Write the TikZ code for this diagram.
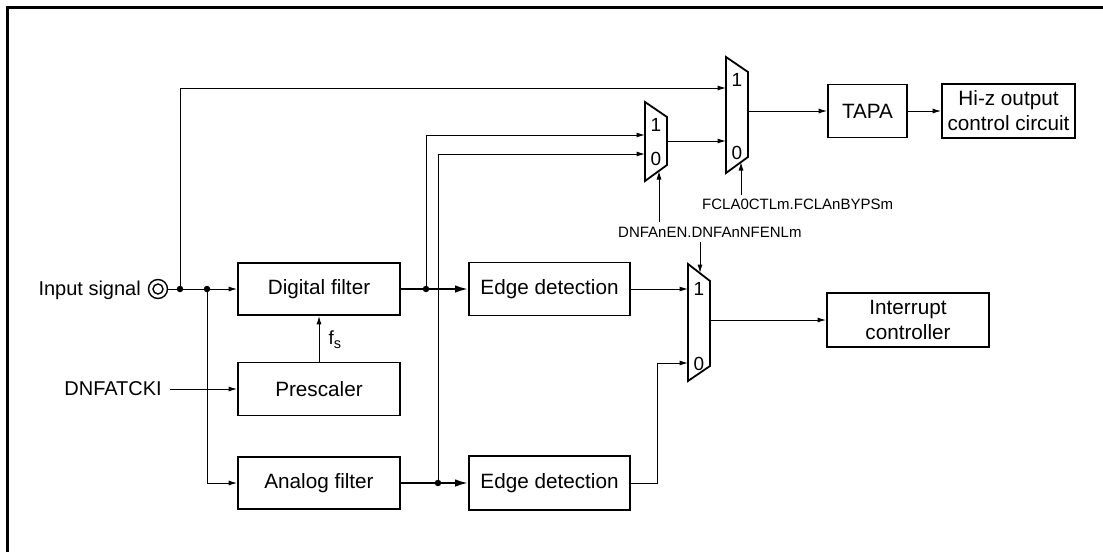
\documentclass[tikz,border=0pt]{standalone}
\usepackage{fontspec}
\setmainfont{Liberation Sans}
\usetikzlibrary{arrows.meta}
\begin{document}
\begin{tikzpicture}[x=1pt,y=-1pt,
  box/.style={draw, line width=1.8pt, inner sep=0pt, align=center, font=\fontsize{20.7}{25}\selectfont},
  arr/.style={line width=1pt, -{Latex[length=8.5pt,width=5pt]}},
  arrthick/.style={line width=2pt, -{Latex[length=13pt,width=7.5pt]}},
  wire/.style={line width=1pt},
  dot/.style={circle, fill, inner sep=0pt, minimum size=6.5pt},
  lbl/.style={inner sep=0pt, font=\fontsize{15}{18}\selectfont},
  txt/.style={inner sep=0pt, font=\fontsize{20}{24}\selectfont},
  muxlbl/.style={inner sep=0pt, font=\fontsize{19}{22}\selectfont},
  muxshape/.style={draw, line width=1.8pt, line join=miter}
]
\useasboundingbox (0,0) rectangle (1103,552);
\draw[line width=3pt] (7,552) -- (7,7) -- (1103,7);

% boxes
\node[box, minimum width=162pt, minimum height=52pt] (dig) at (319,289) {Digital filter};
\node[box, minimum width=162pt, minimum height=53pt] (pre) at (319,389) {Prescaler};
\node[box, minimum width=162pt, minimum height=52pt] (ana) at (319,483) {Analog filter};
\node[box, minimum width=161pt, minimum height=53pt] (ed1) at (549.5,289) {Edge detection};
\node[box, minimum width=161pt, minimum height=54pt] (ed2) at (549.5,483) {Edge detection};
\node[box, minimum width=79pt, minimum height=53pt] (tapa) at (867.5,111) {TAPA};
\node[box, minimum width=133pt, minimum height=54pt] (hiz) at (1008.5,111) {Hi-z output\\control circuit};
\node[box, minimum width=162pt, minimum height=54pt] (intc) at (908,320) {Interrupt\\controller};

% input terminal
\node[draw, circle, line width=1.4pt, minimum size=19pt, inner sep=0pt] (insig) at (158,289) {};
\draw[line width=1.4pt] (insig.center) circle (5);
\node[txt, anchor=base east] (intxt) at (141,295.5) {Input signal};
\node[txt, anchor=east] (dnf) at (162,389) {DNFATCKI};

% multiplexers
\draw[muxshape] (645,102) -- (667,117) -- (667,165) -- (645,181) -- cycle;
\draw[muxshape] (726,57) -- (748,72) -- (748,157) -- (726,173) -- cycle;
\draw[muxshape] (688,264) -- (710,281) -- (710,366) -- (688,381) -- cycle;
\node[muxlbl] (m1a) at (656,125) {1};
\node[muxlbl] (m1b) at (656,159) {0};
\node[muxlbl] (m2a) at (737,80) {1};
\node[muxlbl] (m2b) at (737,153) {0};
\node[muxlbl] (m3a) at (699,289) {1};
\node[muxlbl] (m3b) at (699,364) {0};
\coordinate (m1in1) at (645,135);
\coordinate (m1in0) at (645,154);
\coordinate (m1out) at (667,141);
\coordinate (m1sel) at (659,171);
\coordinate (m2in1) at (726,88);
\coordinate (m2in0) at (726,141);
\coordinate (m2out) at (748,111);
\coordinate (m2sel) at (741,162);
\coordinate (m3in1) at (688,289);
\coordinate (m3in0) at (688,363);
\coordinate (m3out) at (710,320);
\coordinate (m3sel) at (700,273);

% junctions
\coordinate (j1) at (180,289);
\coordinate (j2) at (207,289);
\coordinate (j3) at (426,289);
\coordinate (j4) at (438,483);
\coordinate (bend) at (657,483);

% wires
\draw[arr] (insig) -- (dig);
\draw[arr] (j1) |- (m2in1);
\draw[arr] (j2) |- (ana.west);
\draw[arr] ([xshift=8pt]dnf.east) -- (pre.west);
\draw[arr] (pre) -- (dig);
\node[anchor=base west, inner sep=0pt] (fs) at (328.5,344) {\fontsize{19}{19}\selectfont f\raisebox{-4pt}{\fontsize{14.5}{14.5}\selectfont s}};
\draw[arrthick] (dig) -- (ed1);
\draw[arrthick] (ana) -- (ed2);
\draw[arr] (j3) |- (m1in1);
\draw[arr] (j4) |- (m1in0);
\draw[arr] (m1out) -- (m2in0);
\draw[arr] (m2out) -- (tapa.west);
\draw[arr] (tapa) -- (hiz);
\draw[arr] (ed1) -- (m3in1);
\draw[arr] (ed2.east) -- (bend) |- (m3in0);
\draw[arr] (m3out) -- (intc.west);

% select signals
\node[lbl, anchor=west] (fcla) at (702,204) {FCLA0CTLm.FCLAnBYPSm};
\node[lbl, anchor=west] (dnfen) at (618,232) {DNFAnEN.DNFAnNFENLm};
\draw[arr] ([yshift=3.5pt]fcla.north -| m2sel) -- (m2sel);
\draw[arr] ([yshift=4.5pt]dnfen.north -| m1sel) -- (m1sel);
\draw[arr] ([yshift=-4.5pt]dnfen.south -| m3sel) -- (m3sel);

% dots
\node[dot] (d1) at (j1) {};
\node[dot] (d2) at (j2) {};
\node[dot] (d3) at (j3) {};
\node[dot] (d4) at (j4) {};
\end{tikzpicture}
\end{document}
